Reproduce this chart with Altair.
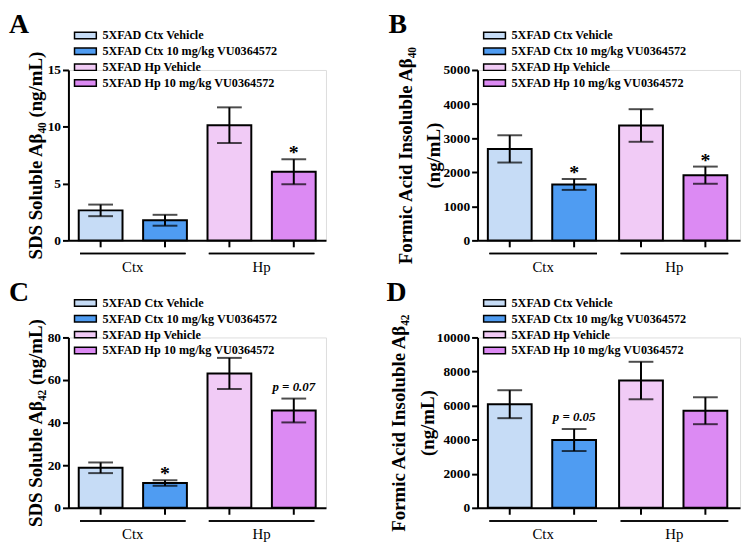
import altair as alt
import pandas as pd

groups = ["Ctx", "Ctx", "Hp", "Hp"]
treatments = ["Vehicle", "VU0364572", "Vehicle", "VU0364572"]
series = ["5XFAD Ctx Vehicle", "5XFAD Ctx 10 mg/kg VU0364572",
          "5XFAD Hp Vehicle", "5XFAD Hp 10 mg/kg VU0364572"]
colors = ["#c6dcf6", "#4f9cf2", "#f1cbf6", "#dc8af3"]

a_mean = [2.64, 1.77, 10.14, 6.04]
a_sem = [0.51, 0.48, 1.57, 1.10]
a_note = ["", "", "", "*"]

b_mean = [2684, 1641, 3371, 1913]
b_sem = [400, 160, 478, 252]
b_note = ["", "*", "", "*"]

c_mean = [18.8, 11.65, 63.1, 45.7]
c_sem = [2.5, 1.3, 7.3, 5.6]
c_note = ["", "*", "", "p = 0.07"]

d_mean = [6082, 3979, 7471, 5699]
d_sem = [820, 646, 1100, 790]
d_note = ["", "p = 0.05", "", ""]

SERIF = "Liberation Serif"
H = 172
RECT = "M-2.2,-0.65H2.2V0.65H-2.2Z"


def panel(letter, mean, sem, note, ymax, ystep, ytitle, width, letter_dx, title_pad):
    df = pd.DataFrame({
        "group": groups, "treatment": treatments, "series": series,
        "mean": mean, "sem": sem, "note": note,
    })
    df["lo"] = df["mean"] - df["sem"]
    df["hi"] = df["mean"] + df["sem"]
    base = alt.Chart(df)
    yscale = alt.Scale(domain=[0, ymax], nice=False, zero=True)
    yaxis = alt.Axis(title=ytitle, values=list(range(0, ymax + 1, ystep)), format="d",
                     grid=False, tickSize=6, tickWidth=2, tickColor="black",
                     domainWidth=2, domainColor="black", labelFont=SERIF,
                     labelFontSize=13.5, labelFontWeight="bold", labelColor="black",
                     labelPadding=2, titleFont=SERIF, titleFontSize=19,
                     titleFontWeight="bold", titleColor="black", titlePadding=title_pad,
                     titleLineHeight=29)
    x = alt.X("group:N", scale=alt.Scale(domain=["Ctx", "Hp"], paddingInner=0, paddingOuter=0),
              axis=alt.Axis(title=None, ticks=False, labelAngle=0, domainWidth=2,
                            domainColor="black", labelFont=SERIF, labelFontSize=15,
                            labelFontWeight="normal", labelColor="black", labelPadding=19))
    xo = alt.XOffset("treatment:N", scale=alt.Scale(domain=["Vehicle", "VU0364572"],
                                                    paddingInner=0.32, paddingOuter=0.16))
    bars = base.mark_bar(stroke="black", strokeWidth=2).encode(
        x=x, xOffset=xo,
        y=alt.Y("mean:Q", scale=yscale, axis=yaxis),
        fill=alt.Fill("series:N", scale=alt.Scale(domain=series, range=colors),
                      legend=alt.Legend(title=None, orient="none", legendX=11, legendY=-41,
                                        symbolType=RECT, symbolSize=100,
                                        symbolStrokeColor="black", symbolStrokeWidth=1.5,
                                        symbolOpacity=1, labelFont=SERIF, labelFontSize=12.3,
                                        labelFontWeight="bold", labelColor="black",
                                        labelLimit=400, labelOffset=11, rowPadding=2,
                                        padding=0)),
    )
    err = base.mark_rule(color="black", strokeWidth=2).encode(
        x=x, xOffset=xo,
        y=alt.Y("lo:Q", scale=yscale, axis=yaxis), y2="hi:Q")
    caps = base.transform_fold(["lo", "hi"], as_=["end", "v"]).mark_tick(
        orient="horizontal", size=25, thickness=2, color="black").encode(
        x=x, xOffset=xo, y=alt.Y("v:Q", scale=yscale, axis=yaxis))
    xticks = base.mark_rule(color="black", strokeWidth=2).encode(
        x=x, xOffset=xo, y=alt.value(H), y2=alt.value(H + 7))
    glines = base.mark_bar(color="black", width=alt.RelativeBandSize(0.82)).encode(
        x=x, y=alt.value(H + 12.5), y2=alt.value(H + 14))
    stars = base.transform_filter(alt.datum.note == "*").mark_text(
        font=SERIF, fontSize=20, fontWeight="bold", color="black", baseline="alphabetic",
        dy=0).encode(x=x, xOffset=xo, y=alt.Y("hi:Q", scale=yscale, axis=yaxis),
                     text="note:N")
    pvals = base.transform_filter("indexof(datum.note, 'p') == 0").mark_text(
        font=SERIF, fontSize=13, fontWeight="bold", fontStyle="italic", color="black",
        baseline="alphabetic", dy=-8).encode(
        x=x, xOffset=xo, y=alt.Y("hi:Q", scale=yscale, axis=yaxis), text="note:N")
    return alt.layer(bars, err, caps, xticks, glines, stars, pvals).properties(
        width=width, height=H,
        title=alt.TitleParams(letter, anchor="start", frame="group", font=SERIF,
                              fontSize=28, fontWeight="bold", color="black", dx=letter_dx,
                              dy=14))


pa = panel("A", a_mean, a_sem, a_note, 15, 5, "SDS Soluble Aβ₄₀ (ng/mL)", 260, -60, 2)
pb = panel("B", b_mean, b_sem, b_note, 5000, 1000,
           ["Formic Acid Insoluble Aβ₄₀", "(ng/mL)"], 265, -90, -1)
pc = panel("C", c_mean, c_sem, c_note, 80, 20, "SDS Soluble Aβ₄₂ (ng/mL)", 260, -60, 2)
pd_ = panel("D", d_mean, d_sem, d_note, 10000, 2000,
            ["Formic Acid Insoluble Aβ₄₂", "(ng/mL)"], 265, -92, -1)

chart = alt.concat(pa, pb, pc, pd_, columns=2, spacing={"row": 98, "column": 153},
                   bounds="flush").resolve_scale(fill="independent").configure_view(
    stroke=None).configure(background="white", padding={"left": 0, "top": 0, "right": 5, "bottom": 5})

chart.save("out.html", embed_options={"renderer": "svg", "actions": False})
